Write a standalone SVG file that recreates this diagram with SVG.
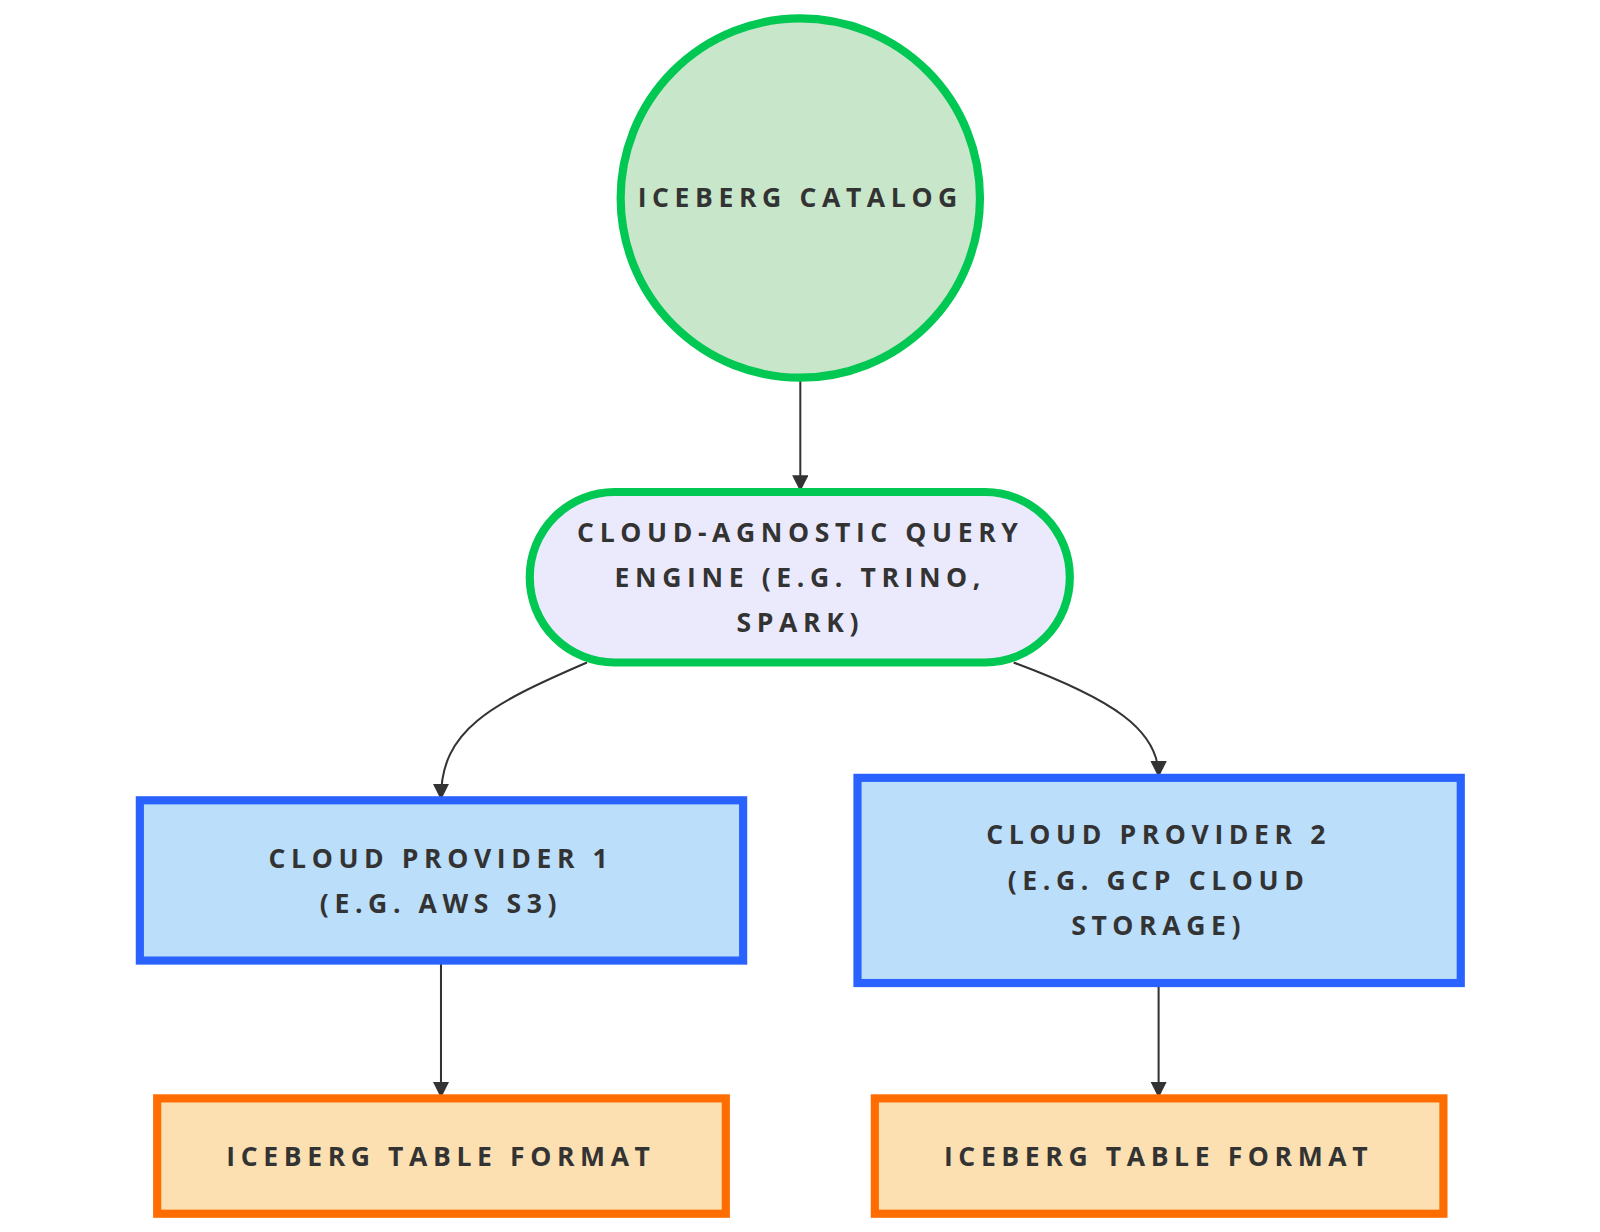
<svg xmlns="http://www.w3.org/2000/svg" width="1600" height="1232" viewBox="0 0 1600 1232">
<style>
text{font-family:"Open Sans","Liberation Sans",sans-serif;font-weight:bold;font-size:26px;fill:#333;letter-spacing:5.5px;text-anchor:middle}
.e{fill:none;stroke:#333;stroke-width:2}
.g{stroke:#00c853;stroke-width:8}
.b{fill:#bbdefb;stroke:#2962ff;stroke-width:8}
.o{fill:#fde0b2;stroke:#ff6d00;stroke-width:8}
</style>
<defs><marker id="a" viewBox="0 0 10 10" refX="9" refY="5" markerWidth="8" markerHeight="8" orient="auto"><path d="M0,0L10,5L0,10z" fill="#333"/></marker></defs>
<rect width="1600" height="1232" fill="#fff"/>
<g transform="scale(1.0208)">
<g id="edges">
<path class="e" d="M784,372V480" marker-end="url(#a)"/>
<path class="e" d="M575,649C480,690 432,715 432,782" marker-end="url(#a)"/>
<path class="e" d="M993,649C1090,685 1135,715 1135,760" marker-end="url(#a)"/>
<path class="e" d="M432,943V1074" marker-end="url(#a)"/>
<path class="e" d="M1135,965V1074" marker-end="url(#a)"/>
</g>
<g id="catalog"><circle cx="784" cy="194" r="176" fill="#c8e6c9" class="g"/><text x="784" y="203">ICEBERG CATALOG</text></g>
<g id="engine"><rect x="519" y="482" width="529" height="167" rx="83" fill="#eaeafc" class="g"/>
<text x="784" y="531">CLOUD-AGNOSTIC QUERY</text><text x="784" y="575">ENGINE (E.G. TRINO,</text><text x="784" y="619">SPARK)</text></g>
<g id="cp1"><rect x="137" y="784" width="591" height="157" class="b"/><text x="432" y="850">CLOUD PROVIDER 1</text><text x="432" y="894">(E.G. AWS S3)</text></g>
<g id="cp2"><rect x="840" y="762" width="591" height="201" class="b"/><text x="1135" y="827">CLOUD PROVIDER 2</text><text x="1135" y="872">(E.G. GCP CLOUD</text><text x="1135" y="916">STORAGE)</text></g>
<g id="t1"><rect x="154" y="1076" width="557" height="113" class="o"/><text x="432" y="1142">ICEBERG TABLE FORMAT</text></g>
<g id="t2"><rect x="857" y="1076" width="557" height="113" class="o"/><text x="1135" y="1142">ICEBERG TABLE FORMAT</text></g>
</g>
</svg>
